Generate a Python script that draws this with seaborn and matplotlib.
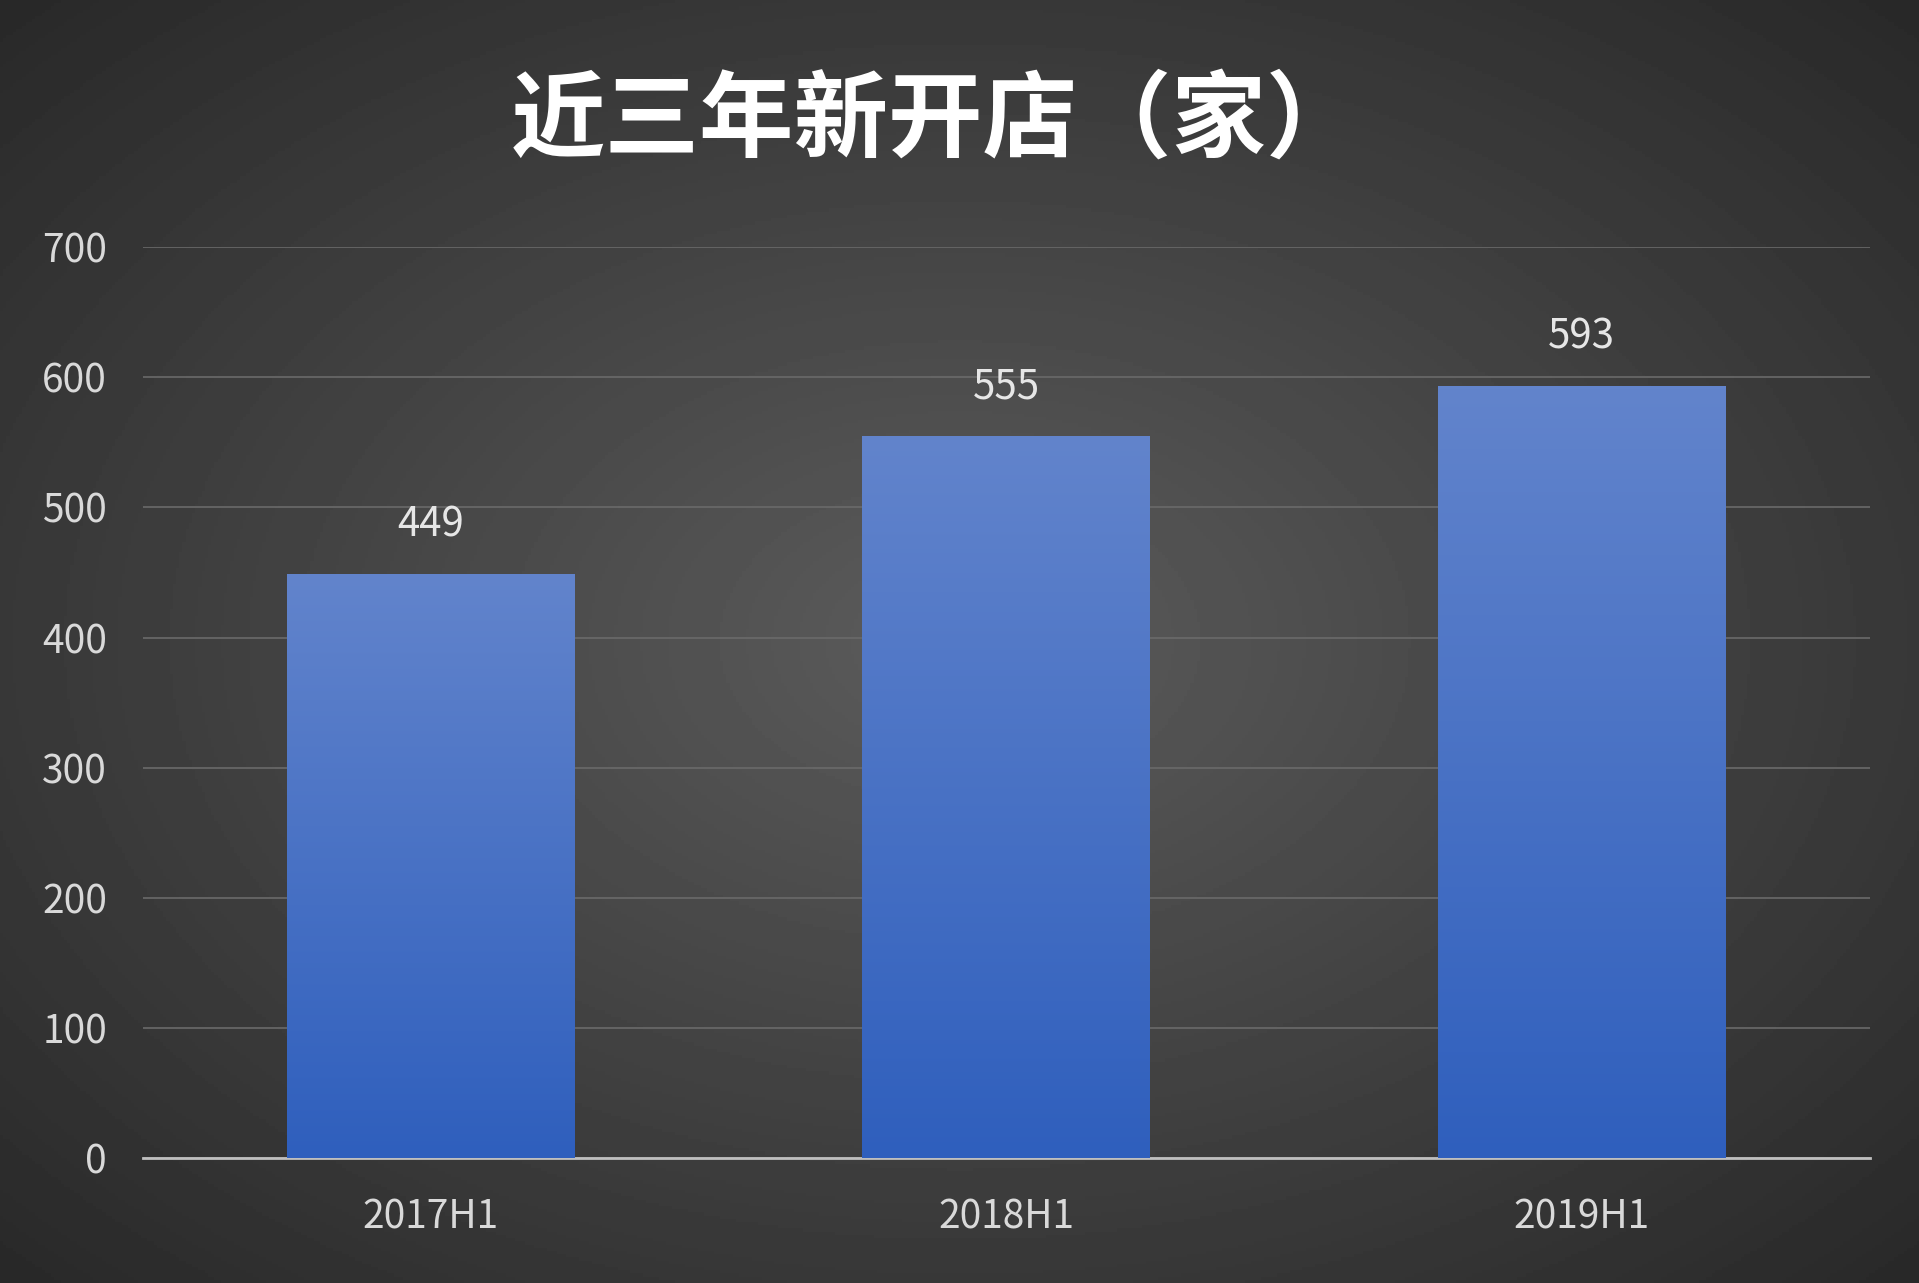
import numpy as np
import matplotlib
matplotlib.use("Agg")
import matplotlib.pyplot as plt
import seaborn as sns
import pandas as pd
from matplotlib.colors import LinearSegmentedColormap

categories = ["2017H1", "2018H1", "2019H1"]
values = [449, 555, 593]
yticks = [0, 100, 200, 300, 400, 500, 600, 700]

sns.set_style("dark")
plt.rcParams['font.family'] = ['Noto Sans CJK SC', 'DejaVu Sans']

fig = plt.figure(figsize=(19.19, 12.83), dpi=100)
bg = fig.add_axes([0, 0, 1, 1], zorder=-10)
yy, xx = np.mgrid[-1:1:400j, -1:1:600j]
r = np.sqrt(xx**2 + yy**2)
bg.imshow(0.36 - 0.2 * np.clip(r / 1.4, 0, 1), cmap="gray", vmin=0, vmax=1, aspect="auto", extent=[0, 1, 0, 1])
bg.axis("off")

ax = fig.add_axes([0.0746, 0.0973, 0.9, 0.710])
ax.patch.set_alpha(0)
df = pd.DataFrame({"cat": categories, "val": values})
sns.barplot(data=df, x="cat", y="val", ax=ax, width=0.5, color="#4472c4", zorder=3, linewidth=0, edgecolor="none")

cm = LinearSegmentedColormap.from_list("b", ["#2f5fbd", "#6284cc"])
grad = np.linspace(0, 1, 256).reshape(-1, 1)
for p in list(ax.patches):
    x0, y0, w, h = p.get_x(), p.get_y(), p.get_width(), p.get_height()
    im = ax.imshow(grad, cmap=cm, origin="lower", extent=[x0, x0 + w, y0, y0 + h], aspect="auto", zorder=4)
    im.set_clip_path(p)
    ax.text(x0 + w / 2, h + 22, f"{int(h)}", ha="center", va="bottom", color="#e6e6e6", fontsize=29, zorder=5)
ax.set_xlim(-0.5, 2.502)
ax.set_ylim(0, 700)

ax.set_yticks(yticks)
ax.grid(axis="y", color="#6a6a6a", linewidth=1.2)
ax.grid(axis="x", visible=False)
for s in ["top", "right", "left"]:
    ax.spines[s].set_visible(False)
ax.spines["bottom"].set_color("#bfbfbf")
ax.spines["bottom"].set_linewidth(2)
ax.tick_params(axis="both", colors="#d9d9d9", labelsize=28, length=0)
ax.tick_params(axis="y", pad=26)
ax.tick_params(axis="x", pad=28)
ax.set_xlabel("")
ax.set_ylabel("")

fig.text(0.488, 0.905, "近三年新开店（家）", ha="center", va="center", color="white", fontsize=68, fontweight="bold")

fig.savefig("out.png", dpi=100)
